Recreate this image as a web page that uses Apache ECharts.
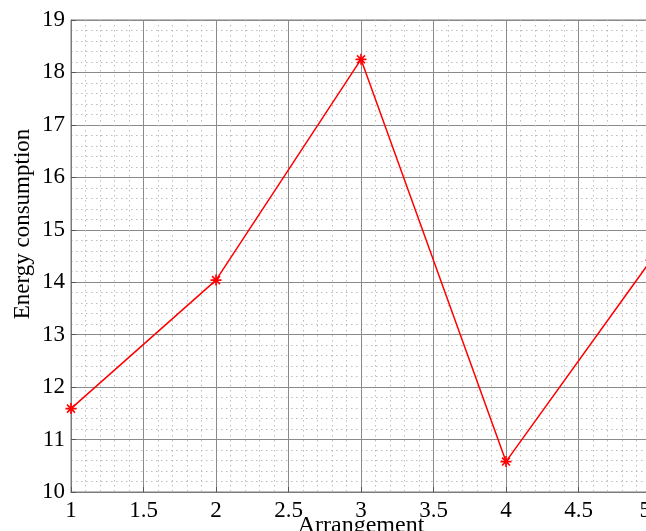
<!DOCTYPE html>
<html>
<head>
<meta charset="utf-8">
<script src="https://cdn.jsdelivr.net/npm/echarts@6/dist/echarts.min.js"></script>
<style>
  html, body { margin: 0; padding: 0; background: #fff; }
  #chart { width: 646px; height: 531px; }
</style>
</head>
<body>
<div id="chart"></div>
<script>
// Energy consumption for each arrangement
const arrangements = [1, 2, 3, 4, 5];
const energy = [11.59, 14.04, 18.25, 10.58, 14.42];

const xTicks = { min: 1, max: 5, step: 0.5 };
const yTicks = { min: 10, max: 19, step: 1 };

const fontFamily = '"Liberation Serif", "DejaVu Serif", serif';
const asterisk = 'path://M0,-5L0,5M-5,0L5,0M-3.6,-3.6L3.6,3.6M-3.6,3.6L3.6,-3.6';

const chart = echarts.init(document.getElementById('chart'), null, { renderer: 'canvas' });

chart.setOption({
  backgroundColor: '#ffffff',
  animation: false,
  grid: {
    left: 71, top: 20, right: -5, bottom: 39,
    containLabel: false,
    outerBoundsMode: 'none',
    show: true, borderColor: '#7a7a7a', borderWidth: 1, backgroundColor: 'transparent'
  },
  xAxis: {
    type: 'value',
    min: xTicks.min, max: xTicks.max, interval: xTicks.step,
    name: 'Arrangement',
    nameLocation: 'middle',
    nameGap: 22,
    nameMoveOverlap: false,
    nameTextStyle: { fontFamily, fontSize: 24, color: '#000' },
    axisLine: { show: true, lineStyle: { color: '#7a7a7a', width: 1 } },
    axisTick: { show: true, inside: true, length: 5, lineStyle: { color: '#555' } },
    axisLabel: {
      fontFamily, fontSize: 23, color: '#000', margin: 7,
      hideOverlap: false, showMaxLabel: true, showMinLabel: true,
      alignMaxLabel: 'right',
      formatter: v => String(v)
    },
    splitLine: { show: true, lineStyle: { color: '#8a8a8a', width: 1 } },
    minorTick: { show: false, splitNumber: 5 },
    minorSplitLine: { show: true, lineStyle: { color: '#bdbdbd', width: 1, type: [1.5, 3.5] } }
  },
  yAxis: {
    type: 'value',
    min: yTicks.min, max: yTicks.max, interval: yTicks.step,
    name: 'Energy consumption',
    nameLocation: 'middle',
    nameGap: 37,
    nameMoveOverlap: false,
    nameTextStyle: { fontFamily, fontSize: 23, color: '#000', padding: [0, 0, 0, 64] },
    axisLine: { show: true, lineStyle: { color: '#7a7a7a', width: 1 } },
    axisTick: { show: true, inside: true, length: 5, lineStyle: { color: '#555' } },
    axisLabel: { fontFamily, fontSize: 23, color: '#000', margin: 6 },
    splitLine: { show: true, lineStyle: { color: '#8a8a8a', width: 1 } },
    minorTick: { show: false, splitNumber: 5 },
    minorSplitLine: { show: true, lineStyle: { color: '#bdbdbd', width: 1, type: [1.5, 3.5] } }
  },
  series: [{
    type: 'line',
    data: arrangements.map((x, i) => [x, energy[i]]),
    lineStyle: { color: '#ff0000', width: 1.5 },
    symbol: asterisk,
    symbolSize: 11,
    itemStyle: { color: 'rgba(0,0,0,0)', borderColor: '#ff0000', borderWidth: 1.6 },
    clip: true,
    z: 5
  }]
});
</script>
</body>
</html>
